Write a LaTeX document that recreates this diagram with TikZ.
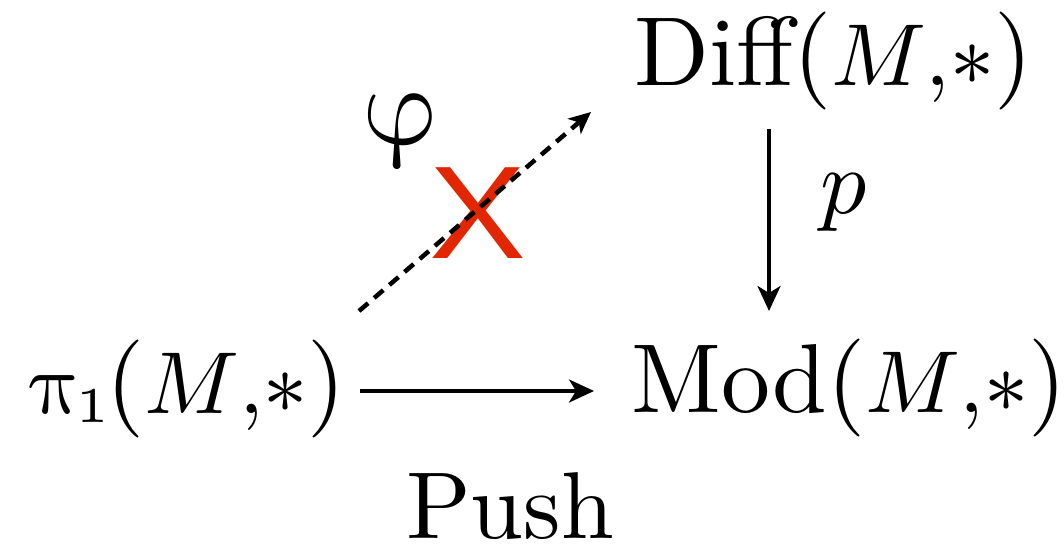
\documentclass[tikz,border=0pt]{standalone}
\usepackage{fontspec}
\usepackage{unicode-math}
\setmainfont{lmroman10-regular.otf}[ItalicFont=lmroman10-italic.otf, BoldFont=lmroman10-bold.otf]
\setmathfont{Latin Modern Math}
\newfontfamily\xfont{Liberation Sans}
\newfontfamily\lmfive{lmroman5-regular.otf}
\newcommand\mst[1]{{\fontsize{88}{100}\selectfont$#1$}}
\newcommand\subone{\raisebox{-9pt}{\lmfive\fontsize{50}{50}\selectfont 1}}
\usetikzlibrary{arrows.meta}
\definecolor{xred}{RGB}{225,38,0}
\tikzset{
  lbl/.style={inner sep=0pt, anchor=base west, font=\fontsize{98}{108}\selectfont},
  arr/.style={line width=3.6pt, -{Stealth[length=25pt,width=23pt,inset=7pt]}},
  darr/.style={line width=4.5pt, dash pattern=on 12pt off 8pt, -{Stealth[length=22pt,width=20pt,inset=6pt]}},
}
\begin{document}
\begin{tikzpicture}[x=1pt,y=-1pt]
\useasboundingbox (0,0) rectangle (1064,543);
\node[lbl] (diff) at (634,85) {Diff(\mst{M{,}{*}})};
\node[lbl] (mod) at (631,412) {Mod(\mst{M{,}{*}})};
\node[lbl] (pi) at (29,413) {\mst{\symup{\pi}}\kern-5pt\subone\kern-3pt(\mst{M{,}{*}})};
\node[lbl, font=\fontsize{95}{105}\selectfont] (push) at (406,538) {Push};
\node[lbl, font=\fontsize{92}{100}\selectfont] (p) at (820,213) {$p$};
\node[inner sep=0pt, font=\fontsize{115}{120}\selectfont] (phi) at (400,132) {$\symup{\varphi}$};
\node[inner sep=0pt, text=xred, font=\xfont\fontsize{132}{140}\selectfont, xscale=1.1] (x) at (478,213) {X};
\coordinate (h1) at (360,391);
\coordinate (h2) at (594,391);
\coordinate (v1) at (769,129);
\coordinate (v2) at (769,311);
\coordinate (d1) at (359,311);
\coordinate (d2) at (591,112);
\draw[arr] (h1) -- (h2);
\draw[arr] (v1) -- (v2);
\draw[darr] (d1) -- (d2);
\end{tikzpicture}
\end{document}
